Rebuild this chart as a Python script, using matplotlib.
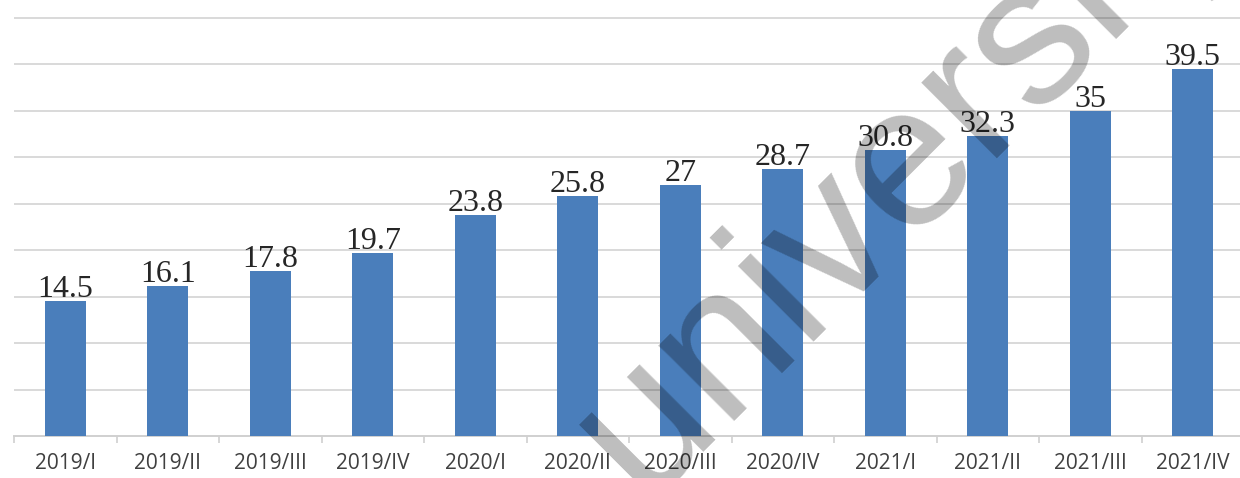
import numpy as np
import matplotlib
matplotlib.use("Agg")
import matplotlib.pyplot as plt


quarters = ["2019/I", "2019/II", "2019/III", "2019/IV",
            "2020/I", "2020/II", "2020/III", "2020/IV",
            "2021/I", "2021/II", "2021/III", "2021/IV"]
values = [14.5, 16.1, 17.8, 19.7, 23.8, 25.8, 27, 28.7, 30.8, 32.3, 35, 39.5]
value_labels = ["14.5", "16.1", "17.8", "19.7", "23.8", "25.8", "27", "28.7",
                "30.8", "32.3", "35", "39.5"]
gridlevels = [5, 10, 15, 20, 25, 30, 35, 40, 45]
watermark = "university"


W, H = 1240, 478
fig = plt.figure(figsize=(W / 100, H / 100), dpi=100)
ax = fig.add_axes([14 / W, 1 - 436 / H, 1230 / W, 436 / H])

x = np.arange(len(quarters))
ax.bar(x, values, width=0.4, color="#4a7ebb", zorder=3)

for xi, v, lab in zip(x, values, value_labels):
    ax.annotate(lab, (xi, v), xytext=(0, 4), textcoords="offset pixels",
                ha="center", va="baseline", fontsize=23,
                family="Liberation Serif", color="#262626", zorder=4)

ax.set_xlim(-0.5, len(quarters) - 0.5)
ax.set_ylim(0, 46.9)

for g in gridlevels:
    ax.axhline(g, color="#d9d9d9", lw=1.4, zorder=1)

ax.set_yticks([])
ax.set_xticks(x)
ax.set_xticklabels(quarters, fontsize=15, family="Open Sans", color="#404040")
ax.tick_params(axis="x", which="major", length=0, pad=12)
ax.set_xticks(np.arange(-0.5, len(quarters)), minor=True)
ax.tick_params(axis="x", which="minor", length=5, width=1.2, color="#d0d0d0")

for s in ["top", "right", "left"]:
    ax.spines[s].set_visible(False)
ax.spines["bottom"].set_color("#d0d0d0")
ax.spines["bottom"].set_linewidth(1.4)

# watermark over the chart
fig.text(642 / W, 1 - 500 / H, watermark, rotation=45, rotation_mode="anchor",
         ha="left", va="baseline", fontsize=146, family="Liberation Sans",
         color="black", alpha=0.26, zorder=10)

fig.savefig("out.png", dpi=100)
plt.close(fig)
